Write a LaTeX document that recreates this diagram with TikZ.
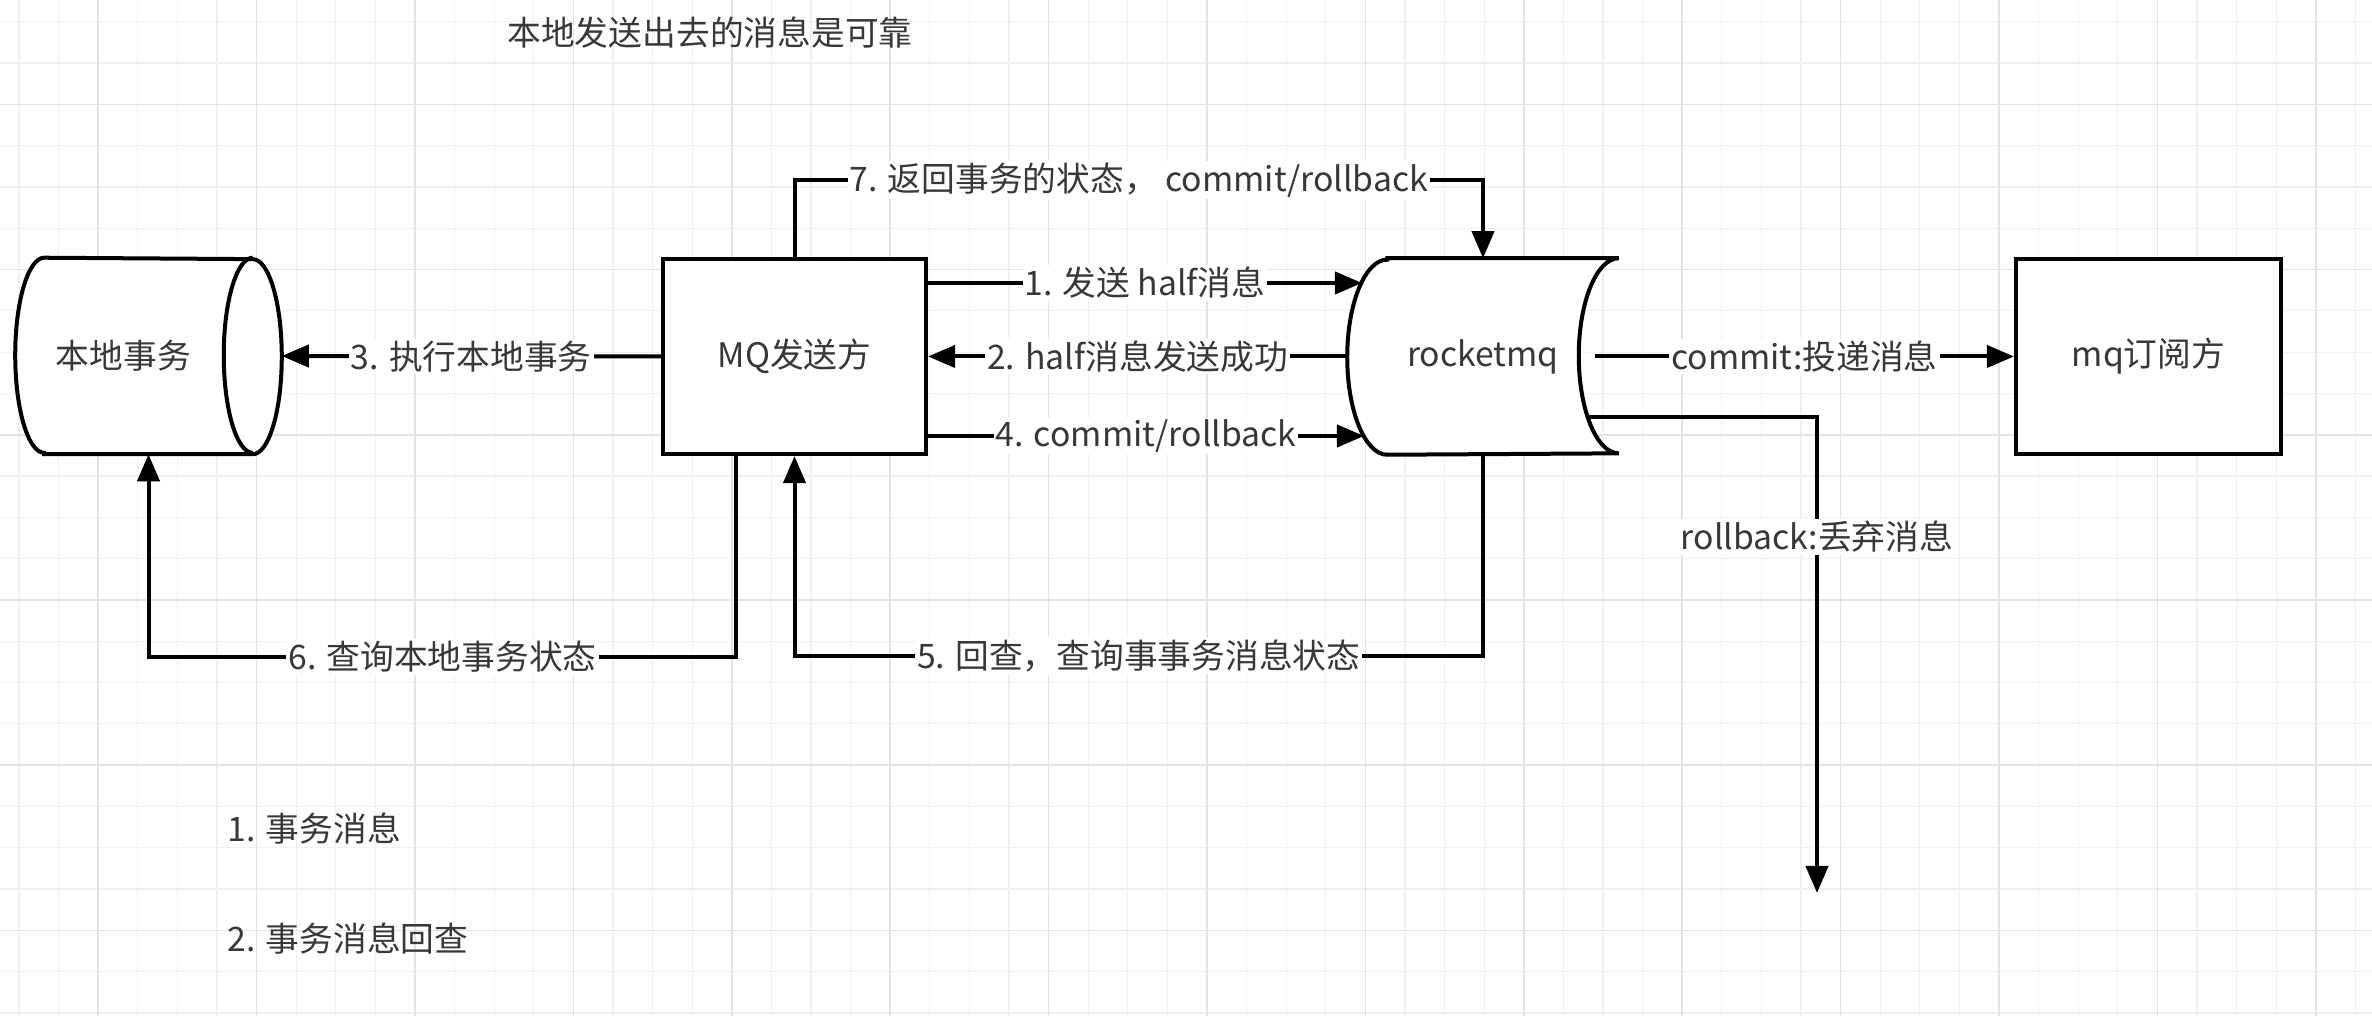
\documentclass[tikz,border=0pt]{standalone}
\usepackage{fontspec}
\setmainfont{Noto Sans CJK SC}
\usetikzlibrary{arrows.meta}
\pgfdeclarelayer{back}
\pgfsetlayers{back,main}

\begin{document}
\begin{tikzpicture}[x=0.01cm,y=0.01cm,
  txt/.style={font=\fontsize{9.6}{11}\selectfont,text=black!78},
  box/.style={txt,draw,line width=0.04cm,fill=white,minimum width=2.65cm,minimum height=1.95cm,inner sep=0pt},
  shapebox/.style={txt,minimum width=#1,minimum height=1.95cm,inner sep=0pt},
  link/.style={line width=0.04cm},
  flow/.style={link,-{Triangle[length=0.27cm,width=0.22cm]}},
  lbl/.style={txt,fill=white,inner sep=0.02cm},
  minorgrid/.style={line width=0.012cm,black!6},
  majorgrid/.style={line width=0.015cm,black!11}]
\useasboundingbox (0,0) rectangle (2372,1016);

% Grid
\begin{pgfonlayer}{back}
\fill[white] (0,0) rectangle (2372,1016);
\foreach \i in {0,...,59} \draw[minorgrid] ({19+39.6*\i},0) -- ++(0,1016);
\foreach \j in {0,...,24} \draw[minorgrid] (0,{994.2-41.3*\j}) -- ++(2372,0);
\foreach \i in {0,...,14} \draw[majorgrid] ({98.2+158.4*\i},0) -- ++(0,1016);
\foreach \j in {0,...,5} \draw[majorgrid] (0,{911.6-165.2*\j}) -- ++(2372,0);
\end{pgfonlayer}

% Parties
\node[shapebox=2.65cm] (local) at (148.5,660) {};
\node[txt] (localtext) at ([xshift=-0.25cm]local.center) {本地事务};
\node[box,minimum width=2.63cm] (mq) at (794.5,659.5) {MQ发送方};
\node[shapebox=2.7cm] (rmq) at (1483,659.5) {rocketmq};
\node[box] (sub) at (2148.5,659.5) {mq订阅方};

% Outlines of the cylinder and the stored-data shape
\begin{pgfonlayer}{back}
\draw[link,fill=white] ([xshift=0.29cm]local.south west) -- ([xshift=-0.29cm]local.south east)
  arc[start angle=-90,end angle=90,x radius=0.29cm,y radius=0.975cm]
  -- ([xshift=0.29cm]local.north west)
  arc[start angle=90,end angle=270,x radius=0.29cm,y radius=0.975cm] -- cycle;
\draw[link] ([xshift=-0.29cm]local.north east) arc[start angle=90,end angle=270,x radius=0.29cm,y radius=0.975cm];
\draw[link,fill=white] ([xshift=0.4cm]rmq.north west) -- (rmq.north east)
  arc[start angle=90,end angle=270,x radius=0.4cm,y radius=0.975cm]
  -- ([xshift=0.4cm]rmq.south west)
  arc[start angle=270,end angle=90,x radius=0.4cm,y radius=0.975cm] -- cycle;
\end{pgfonlayer}

% Texts
\node[txt] (title) at (710,983) {本地发送出去的消息是可靠};
\node[txt,anchor=west,inner sep=0pt] (note1) at (227,187) {1. 事务消息};
\node[txt,anchor=west,inner sep=0pt] (note2) at (227,77) {2. 事务消息回查};

% Messages
\coordinate (in1) at (1362,733);
\coordinate (in4) at (1364,580);
\coordinate (out5) at (1589,599);
\coordinate (drop) at (1817,123);
\draw[flow] (mq.east |- in1) -- node[lbl] {1. 发送 half消息} (in1);
\draw[flow] (rmq.west) -- node[lbl] {2. half消息发送成功} (mq.east);
\draw[flow] (mq.west) -- node[lbl] {3. 执行本地事务} (local.east);
\draw[flow] (mq.east |- in4) -- node[lbl] {4. commit/rollback} (in4);
\draw[flow] (rmq.south) -- ++(0,-201) -| node[lbl,pos=0.25] {5. 回查，查询事事务消息状态} (mq.south);
\draw[flow] ([xshift=-0.58cm]mq.south) -- ++(0,-201) -| node[lbl,pos=0.25] {6. 查询本地事务状态} (local.south);
\draw[flow] (mq.north) -- ++(0,77) -| node[lbl,pos=0.25] {7. 返回事务的状态， commit/rollback} (rmq.north);
\draw[flow] ([xshift=-0.24cm]rmq.east) -- node[lbl] {commit:投递消息} (sub.west);
\draw[flow] (out5) -| node[lbl,pos=0.626] {rollback:丢弃消息} (drop);
\end{tikzpicture}
\end{document}
